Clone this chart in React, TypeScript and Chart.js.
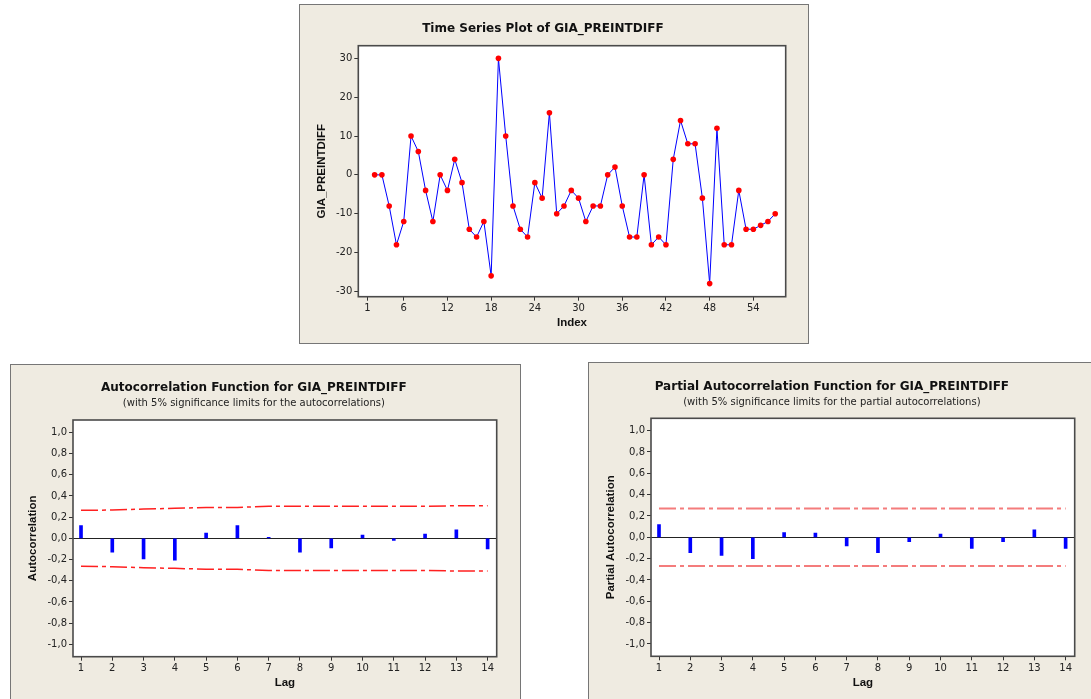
import React, { useEffect, useRef } from 'react';
import { Chart, registerables } from 'chart.js';

Chart.register(...registerables);

const FONT = "'Liberation Sans', Arial, sans-serif";
const TFONT = "'DejaVu Sans', Verdana, sans-serif";
const BG = '#efebe1';

// ---------- Time series data ----------
const tsIndex = [2, 3, 4, 5, 6, 7, 8, 9, 10, 11, 12, 13, 14, 15, 16, 17, 18, 19, 20, 21, 22, 23, 24, 25, 26, 27, 28, 29, 30, 31, 32, 33, 34, 35, 36, 37, 38, 39, 40, 41, 42, 43, 44, 45, 46, 47, 48, 49, 50, 51, 52, 53, 54, 55, 56, 57];
const tsValues = [0, 0, -8, -18, -12, 10, 6, -4, -12, 0, -4, 4, -2, -14, -16, -12, -26, 30, 10, -8, -14, -16, -2, -6, 16, -10, -8, -4, -6, -12, -8, -8, 0, 2, -8, -16, -16, 0, -18, -16, -18, 4, 14, 8, 8, -6, -28, 12, -18, -18, -4, -14, -14, -13, -12, -10];
const tsXTicks = [1, 6, 12, 18, 24, 30, 36, 42, 48, 54];
const tsYTicks = [-30, -20, -10, 0, 10, 20, 30];

// ---------- ACF / PACF data ----------
const lags = [1, 2, 3, 4, 5, 6, 7, 8, 9, 10, 11, 12, 13, 14];
const acfValues = [0.12, -0.13, -0.195, -0.205, 0.05, 0.12, 0.01, -0.13, -0.09, 0.03, -0.02, 0.04, 0.08, -0.10];
const acfLimits = [0.264, 0.267, 0.277, 0.283, 0.291, 0.292, 0.302, 0.302, 0.302, 0.302, 0.302, 0.302, 0.308, 0.308];
const pacfValues = [0.12, -0.145, -0.17, -0.20, 0.045, 0.04, -0.08, -0.145, -0.04, 0.03, -0.105, -0.04, 0.07, -0.105];
const pacfLimit = 0.2697;
const corrYTicks = [-1.0, -0.8, -0.6, -0.4, -0.2, 0.0, 0.2, 0.4, 0.6, 0.8, 1.0];

const framePlugin = {
  id: 'frame',
  beforeDraw(chart: any) {
    const { ctx, chartArea: a, width, height } = chart;
    ctx.save();
    ctx.fillStyle = BG;
    ctx.fillRect(0, 0, width, height);
    ctx.fillStyle = '#ffffff';
    ctx.fillRect(a.left, a.top, a.right - a.left, a.bottom - a.top);
    ctx.restore();
  },
  afterDraw(chart: any) {
    const { ctx, chartArea: a } = chart;
    ctx.save();
    ctx.strokeStyle = '#4a4a4a';
    ctx.lineWidth = 1.6;
    ctx.strokeRect(a.left, a.top, a.right - a.left, a.bottom - a.top);
    ctx.restore();
  },
};

const tickFont = { family: TFONT, size: 10 };
const axisTitleFont = { family: FONT, size: 11.5, weight: 'bold' as const };

function fmtComma(v: number) {
  return Number(v).toFixed(1).replace('.', ',');
}

function tsConfig(): any {
  return {
    type: 'line',
    data: {
      datasets: [
        {
          data: tsIndex.map((x, i) => ({ x, y: tsValues[i] })),
          borderColor: '#0000ff',
          borderWidth: 1,
          pointBackgroundColor: '#ff0000',
          pointBorderWidth: 0,
          pointRadius: 2.8,
          tension: 0,
        },
      ],
    },
    options: {
      responsive: false,
      animation: false,
      devicePixelRatio: 1,
      events: [],
      layout: { padding: { left: 0, top: 0, right: 22.3, bottom: 0 } },
      plugins: {
        legend: { display: false },
        tooltip: { enabled: false },
        title: {
          display: true,
          text: 'Time Series Plot of GIA_PREINTDIFF',
          color: '#111',
          font: { family: TFONT, size: 12, weight: 'bold' },
          padding: { top: 17.1, bottom: 9.2 },
        },
      },
      scales: {
        x: {
          type: 'linear',
          min: -0.24,
          max: 58.44,
          offset: false,
          afterBuildTicks: (s: any) => { s.ticks = tsXTicks.map((v) => ({ value: v })); },
          afterFit: (s: any) => { s.height = 46.3; },
          grid: { drawOnChartArea: false, drawTicks: true, tickLength: 4, tickColor: '#333', offset: false },
          border: { display: false },
          ticks: { font: tickFont, color: '#222', padding: 2, maxRotation: 0, autoSkip: false },
          title: { display: true, text: 'Index', font: axisTitleFont, color: '#111', padding: { top: 0, bottom: 13.1 } },
        },
        y: {
          type: 'linear',
          min: -31.37,
          max: 33.26,
          afterBuildTicks: (s: any) => { s.ticks = tsYTicks.map((v) => ({ value: v })); },
          afterFit: (s: any) => { s.width = 58.3; },
          grid: { drawOnChartArea: false, drawTicks: true, tickLength: 4, tickColor: '#333' },
          border: { display: false },
          ticks: { font: tickFont, color: '#222', padding: 2 },
          title: { display: true, text: 'GIA_PREINTDIFF', font: axisTitleFont, color: '#111', padding: { top: 14.6, bottom: 0 } },
        },
      },
    },
    plugins: [framePlugin],
  };
}

function corrConfig(opts: {
  title: string;
  subtitle: string;
  yTitle: string;
  values: number[];
  upper: number[];
  limitColor: string;
  limitWidth: number;
  rightPad: number;
  titlePad: { top: number; bottom: number };
  subPad: { top: number; bottom: number };
  xHeight: number;
  lagPadBottom: number;
}): any {
  const limitDs = (sign: number) => ({
    type: 'line',
    data: lags.map((x, i) => ({ x, y: sign * opts.upper[i] })),
    borderColor: opts.limitColor,
    borderWidth: opts.limitWidth,
    borderDash: [17, 4, 4, 4],
    pointRadius: 0,
    fill: false,
    tension: 0,
  });
  return {
    type: 'bar',
    data: {
      datasets: [
        {
          type: 'bar',
          data: lags.map((x, i) => ({ x, y: opts.values[i] })),
          backgroundColor: '#0000ff',
          barThickness: 3,
        },
        limitDs(1),
        limitDs(-1),
      ],
    },
    options: {
      responsive: false,
      animation: false,
      devicePixelRatio: 1,
      events: [],
      layout: { padding: { left: 0, top: 0, right: opts.rightPad, bottom: 0 } },
      plugins: {
        legend: { display: false },
        tooltip: { enabled: false },
        title: {
          display: true,
          text: opts.title,
          color: '#111',
          font: { family: TFONT, size: 12, weight: 'bold' },
          padding: opts.titlePad,
        },
        subtitle: {
          display: true,
          text: opts.subtitle,
          color: '#222',
          font: { family: TFONT, size: 10 },
          padding: opts.subPad,
        },
      },
      scales: {
        x: {
          type: 'linear',
          min: 0.744,
          max: 14.29,
          offset: false,
          afterBuildTicks: (s: any) => { s.ticks = lags.map((v) => ({ value: v })); },
          afterFit: (s: any) => { s.height = opts.xHeight; },
          grid: { drawOnChartArea: false, drawTicks: true, tickLength: 4, tickColor: '#333', offset: false },
          border: { display: false },
          ticks: { font: tickFont, color: '#222', padding: 2, maxRotation: 0, autoSkip: false },
          title: { display: true, text: 'Lag', font: axisTitleFont, color: '#111', padding: { top: 0, bottom: opts.lagPadBottom } },
        },
        y: {
          type: 'linear',
          min: -1.116,
          max: 1.116,
          afterBuildTicks: (s: any) => { s.ticks = corrYTicks.map((v) => ({ value: v })); },
          afterFit: (s: any) => { s.width = 62; },
          grid: {
            drawOnChartArea: true,
            drawTicks: true,
            tickLength: 4,
            tickColor: '#333',
            lineWidth: 1,
            color: (c: any) => (c.tick && Math.abs(c.tick.value) < 1e-9 ? '#222' : 'rgba(0,0,0,0)'),
          },
          border: { display: false },
          ticks: { font: tickFont, color: '#222', padding: 2, callback: (v: any) => fmtComma(v) },
          title: { display: true, text: opts.yTitle, font: axisTitleFont, color: '#111', padding: { top: 14.6, bottom: 0 } },
        },
      },
    },
    plugins: [framePlugin],
  };
}

function Panel(props: { left: number; top: number; width: number; height: number; cw: number; ch: number; makeConfig: () => any }) {
  const ref = useRef<HTMLCanvasElement>(null);
  useEffect(() => {
    const chart = new Chart(ref.current as HTMLCanvasElement, props.makeConfig());
    return () => chart.destroy();
  }, []);
  return (
    <div
      style={{
        position: 'absolute',
        left: props.left,
        top: props.top,
        width: props.width,
        height: props.height,
        boxSizing: 'border-box',
        border: '1px solid #767676',
        background: BG,
        overflow: 'hidden',
      }}
    >
      <canvas ref={ref} width={props.cw} height={props.ch} style={{ display: 'block' }} />
    </div>
  );
}

export default function App() {
  return (
    <div style={{ position: 'absolute', left: 0, top: 0, width: 1091, height: 699, overflow: 'hidden', background: '#ffffff' }}>
      <Panel left={299} top={4} width={510} height={340} cw={508} ch={338} makeConfig={tsConfig} />
      <Panel
        left={10}
        top={364}
        width={511}
        height={345}
        cw={509}
        ch={334}
        makeConfig={() =>
          corrConfig({
            title: 'Autocorrelation Function for GIA_PREINTDIFF',
            subtitle: '(with 5% significance limits for the autocorrelations)',
            yTitle: 'Autocorrelation',
            values: acfValues,
            upper: acfLimits,
            limitColor: '#ff2020',
            limitWidth: 1.5,
            rightPad: 23.3,
            titlePad: { top: 16.1, bottom: 0 },
            subPad: { top: 2.2, bottom: 10.3 },
            xHeight: 42.3,
            lagPadBottom: 9.4,
          })
        }
      />
      <Panel
        left={588}
        top={362}
        width={520}
        height={345}
        cw={502}
        ch={336}
        makeConfig={() =>
          corrConfig({
            title: 'Partial Autocorrelation Function for GIA_PREINTDIFF',
            subtitle: '(with 5% significance limits for the partial autocorrelations)',
            yTitle: 'Partial Autocorrelation',
            values: pacfValues,
            upper: lags.map(() => pacfLimit),
            limitColor: '#f47c7c',
            limitWidth: 2,
            rightPad: 16.3,
            titlePad: { top: 17.1, bottom: 0 },
            subPad: { top: 1.5, bottom: 10.3 },
            xHeight: 42.7,
            lagPadBottom: 9.1,
          })
        }
      />
    </div>
  );
}
